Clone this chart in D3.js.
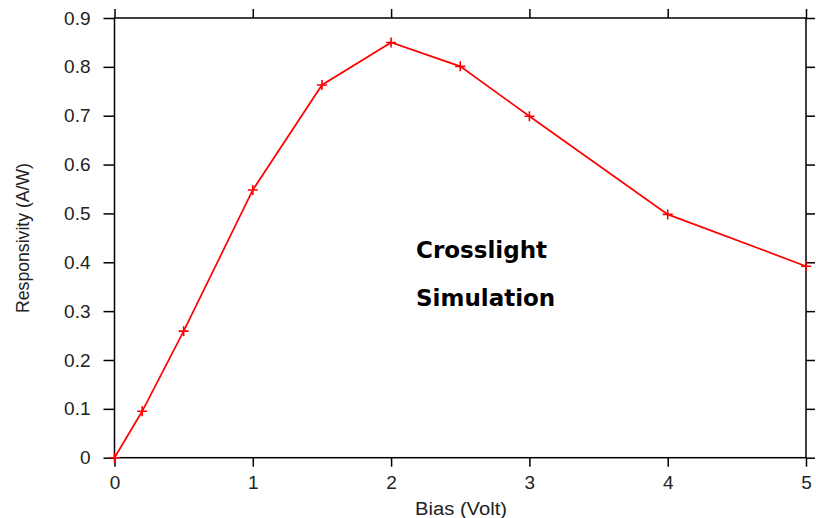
<!DOCTYPE html>
<html><head><meta charset="utf-8">
<script src="https://cdn.jsdelivr.net/npm/d3@7"></script>
<style>body{margin:0;background:#fff}svg{display:block}</style>
</head><body>
<svg id="c" width="816" height="518"></svg>
<script>
const biasVolt = [0, 0.2, 0.5, 1, 1.5, 2, 2.5, 3, 4, 5];
const responsivity = [0, 0.095, 0.259, 0.548, 0.763, 0.850, 0.801, 0.699, 0.498, 0.392];
const xTicks = [0, 1, 2, 3, 4, 5];
const yTicks = [0, 0.1, 0.2, 0.3, 0.4, 0.5, 0.6, 0.7, 0.8, 0.9];

const svg = d3.select("#c");
const L = 114.5, R = 806, T = 18, B = 457.7;
const x = d3.scaleLinear().domain([0, 5]).range([L, R]);
const y = d3.scaleLinear().domain([0, 0.9]).range([B, T]);
const font = "'Liberation Sans', Arial, sans-serif";

function style(g){
  g.select(".domain").remove();
  g.selectAll("line").attr("stroke", "#000").attr("stroke-width", 1.5);
  g.selectAll("text").attr("font-family", font).attr("font-size", 19).attr("fill", "#222");
}
svg.append("g").attr("transform", `translate(0,${B})`)
  .call(d3.axisBottom(x).tickValues(xTicks).tickSize(9).tickPadding(9).tickFormat(d3.format("d"))).call(style);
svg.append("g").attr("transform", `translate(0,${T})`)
  .call(d3.axisTop(x).tickValues(xTicks).tickSize(9).tickFormat("")).call(style);
svg.append("g").attr("transform", `translate(${L},0)`)
  .call(d3.axisLeft(y).tickValues(yTicks).tickSize(11).tickPadding(13).tickFormat(d => d === 0 ? "0" : d3.format(".1f")(d))).call(style);
svg.append("g").attr("transform", `translate(${R},0)`)
  .call(d3.axisRight(y).tickValues(yTicks).tickSize(9).tickFormat("")).call(style);

svg.append("rect").attr("x", L).attr("y", T).attr("width", R - L).attr("height", B - T)
  .attr("fill", "none").attr("stroke", "#000").attr("stroke-width", 1.5);

const pts = biasVolt.map((b, i) => [b, responsivity[i]]);
svg.append("path").datum(pts)
  .attr("d", d3.line().x(d => x(d[0])).y(d => y(d[1])))
  .attr("fill", "none").attr("stroke", "#ff0000").attr("stroke-width", 1.7);

const s = 5;
svg.append("g").selectAll("path.m").data(pts).join("path")
  .attr("d", d => `M${x(d[0]) - s},${y(d[1])}H${x(d[0]) + s}M${x(d[0])},${y(d[1]) - s}V${y(d[1]) + s}`)
  .attr("stroke", "#ff0000").attr("stroke-width", 1.6).attr("fill", "none");

svg.append("text").attr("x", 416).attr("y", 258).text("Crosslight")
  .attr("font-family", "'DejaVu Sans', Verdana, sans-serif").attr("font-weight", "bold").attr("font-size", 23).attr("fill", "#000");
svg.append("text").attr("x", 416).attr("y", 306).text("Simulation")
  .attr("font-family", "'DejaVu Sans', Verdana, sans-serif").attr("font-weight", "bold").attr("font-size", 23).attr("fill", "#000");

svg.append("text").attr("x", 461).attr("y", 515).attr("text-anchor", "middle")
  .attr("font-family", font).attr("font-size", 18).attr("fill", "#222")
  .attr("textLength", 92).attr("lengthAdjust", "spacingAndGlyphs").text("Bias (Volt)");
svg.append("text").attr("transform", `translate(29,238) rotate(-90)`).attr("text-anchor", "middle")
  .attr("font-family", font).attr("font-size", 17.5).attr("fill", "#222")
  .attr("textLength", 150).attr("lengthAdjust", "spacingAndGlyphs").text("Responsivity (A/W)");
</script>
</body></html>
